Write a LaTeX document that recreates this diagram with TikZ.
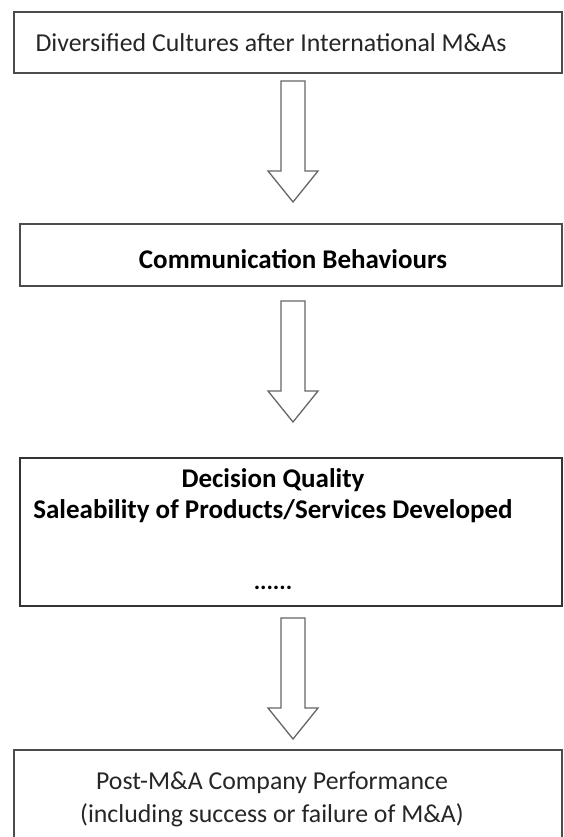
\documentclass[tikz,border=0pt]{standalone}
\usepackage{fontspec}
\setmainfont{Carlito}
\usetikzlibrary{calc}
\begin{document}
\begin{tikzpicture}[x=1pt,y=-1pt,
  stagebox/.style={draw=black!70,line width=1.4pt,fill=white},
  label/.style={inner sep=0pt,align=center,text=black!85,font=\fontsize{25.8}{30}\selectfont},
  boldlabel/.style={label,font=\fontsize{27}{30}\selectfont\bfseries,text=black},
  hollow/.style={draw=black!60,line width=1.3pt,line join=miter,fill=white}]
\useasboundingbox (0,0) rectangle (563,837);
\clip (0,0) rectangle (563,837);
% hollow block arrow from a top coordinate down to a tip coordinate
\newcommand\hollowarrow[2]{%
  \draw[hollow] ($(#1)+(-12,0)$) -- ($(#2)+(-12,-31)$) -- ($(#2)+(-25,-31)$)
    -- (#2) -- ($(#2)+(25,-31)$) -- ($(#2)+(12,-31)$) -- ($(#1)+(12,0)$) -- cycle;}
% stage boxes
\draw[stagebox] (14,12) rectangle (562,73);
\draw[stagebox] (20,224) rectangle (562,286);
\draw[stagebox,draw=black!80] (20,458) rectangle (562,606);
\draw[stagebox] (14,750) rectangle (562,850);
\coordinate (b1s) at (293,73);
\coordinate (b2n) at (293,224);
\coordinate (b2s) at (293,286);
\coordinate (b3n) at (293,458);
\coordinate (b3s) at (293,606);
\coordinate (b4n) at (293,750);
% stage texts
\node[label] (t1) at (271,43) {Diversified Cultures after International M\&As};
\node[boldlabel] (t2) at (293,259) {Communication Behaviours};
\node[boldlabel] (t3a) at (273,480) {Decision Quality};
\node[boldlabel] (t3b) at (273,511) {Saleability of Products/Services Developed};
\node[boldlabel,font=\fontsize{24}{26}\selectfont\bfseries] (t3c) at (273,588) {......};
\node[label] (t4a) at (272,783) {Post-M\&A Company Performance};
\node[label] (t4b) at (272,815) {(including success or failure of M\&A)};
% arrows between the stages
\coordinate (a1t) at ($(b1s)+(0,8)$);
\coordinate (a1h) at ($(b2n)+(0,-22)$);
\coordinate (a2t) at ($(b2s)+(0,15)$);
\coordinate (a2h) at ($(b3n)+(0,-36)$);
\coordinate (a3t) at ($(b3s)+(0,12)$);
\coordinate (a3h) at ($(b4n)+(0,-11)$);
\hollowarrow{a1t}{a1h}
\hollowarrow{a2t}{a2h}
\hollowarrow{a3t}{a3h}
\end{tikzpicture}
\end{document}
